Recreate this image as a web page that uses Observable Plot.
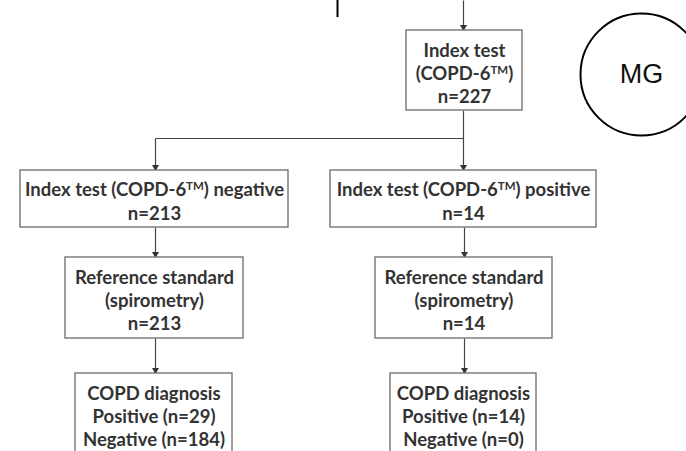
<!DOCTYPE html>
<html>
<head>
<meta charset="utf-8">
<script src="https://cdn.jsdelivr.net/npm/d3@7"></script>
<script src="https://cdn.jsdelivr.net/npm/@observablehq/plot@0.6"></script>
<style>
  html, body { margin: 0; padding: 0; background: white; overflow: hidden; }
</style>
</head>
<body>
<div id="chart"></div>
<script>
// ---- data ----
const total = 227;
const testNegative = 213;
const testPositive = 14;
const copdPositive = [29, 14];
const copdNegative = [184, 0];
const stampLabel = "MG";

const boxLabels = [
  `Index test\n(COPD-6TM)\nn=${total}`,
  `Index test (COPD-6TM) negative\nn=${testNegative}`,
  `Index test (COPD-6TM) positive\nn=${testPositive}`,
  `Reference standard\n(spirometry)\nn=${testNegative}`,
  `Reference standard\n(spirometry)\nn=${testPositive}`,
  `COPD diagnosis\nPositive (n=${copdPositive[0]})\nNegative (n=${copdNegative[0]})`,
  `COPD diagnosis\nPositive (n=${copdPositive[1]})\nNegative (n=${copdNegative[1]})`
];

// ---- layout (pixel positions of the flowchart) ----
const boxX1 = [406, 20, 330, 65, 375, 75, 390];
const boxX2 = [522, 288, 596, 243, 552, 232, 536];
const boxY1 = [30, 170, 170, 257, 257, 373, 373];
const boxY2 = [110, 227, 227, 338, 338, 470, 470];
const textY = [72, 200, 200, 299, 299, 415, 415];

const boxes = boxLabels.map((label, i) => ({
  label, x1: boxX1[i], x2: boxX2[i], y1: boxY1[i], y2: boxY2[i],
  cx: (boxX1[i] + boxX2[i]) / 2, ty: textY[i]
}));

// connectors: [x1, y1, x2, y2, arrow]
const connectors = [
  [463, 0, 463, 30, true],
  [463, 110, 463, 170, true],
  [155, 138, 463, 138, false],
  [155, 138, 155, 170, true],
  [155, 227, 155, 257, true],
  [464, 227, 464, 257, true],
  [155, 338, 155, 373, true],
  [464, 338, 464, 373, true]
].map(([x1, y1, x2, y2, arrow]) => ({x1, y1, x2, y2, arrow}));

const stamp = [{x: 641, y: 74, label: stampLabel}];
const cursor = [{x: 337, y1: 0, y2: 17}];

const plot = Plot.plot({
  width: 686,
  height: 451,
  margin: 0,
  x: {type: "identity", axis: null},
  y: {type: "identity", axis: null},
  style: {background: "white", overflow: "hidden"},
  marks: [
    Plot.link(connectors, {x1: "x1", y1: "y1", x2: "x2", y2: "y2", stroke: "#444", strokeWidth: 1.2}),
    Plot.dot(connectors.filter(d => d.arrow), {x: "x2", y: "y2", dy: -3.5, symbol: "triangle", rotate: 180, r: 2.6, fill: "#333", stroke: "none"}),
    Plot.rect(boxes, {x1: "x1", x2: "x2", y1: "y1", y2: "y2", fill: "white", stroke: "#6a6a6a", strokeWidth: 1.3}),
    Plot.text(boxes, {x: "cx", y: "ty", text: "label", lineAnchor: "middle", lineHeight: 1.26,
      fontFamily: "Lato", fontWeight: "bold", fontSize: 18.5, fill: "#333"}),
    Plot.dot(stamp, {x: "x", y: "y", r: 61, stroke: "black", strokeWidth: 2, fill: "none"}),
    Plot.text(stamp, {x: "x", y: "y", text: "label", fontFamily: "Liberation Sans", fontSize: 27, fill: "#111", lineAnchor: "middle"}),
    Plot.ruleX(cursor, {x: "x", y1: "y1", y2: "y2", stroke: "black", strokeWidth: 2})
  ]
});

// render "TM" as superscript
function superscriptTM(svg) {
  const walker = document.createTreeWalker(svg, NodeFilter.SHOW_TEXT);
  const nodes = [];
  while (walker.nextNode()) if (walker.currentNode.nodeValue.includes("TM")) nodes.push(walker.currentNode);
  for (const node of nodes) {
    const parts = node.nodeValue.split("TM");
    const parent = node.parentNode;
    const frag = document.createDocumentFragment();
    parts.forEach((p, i) => {
      if (i > 0) {
        const sup = document.createElementNS("http://www.w3.org/2000/svg", "tspan");
        sup.setAttribute("baseline-shift", "super");
        sup.setAttribute("font-size", "62%");
        sup.textContent = "TM";
        frag.appendChild(sup);
        const rest = document.createElementNS("http://www.w3.org/2000/svg", "tspan");
        rest.textContent = p;
        frag.appendChild(rest);
      } else {
        frag.appendChild(document.createTextNode(p));
      }
    });
    parent.replaceChild(frag, node);
  }
}
superscriptTM(plot);
document.getElementById("chart").appendChild(plot);
</script>
</body>
</html>
